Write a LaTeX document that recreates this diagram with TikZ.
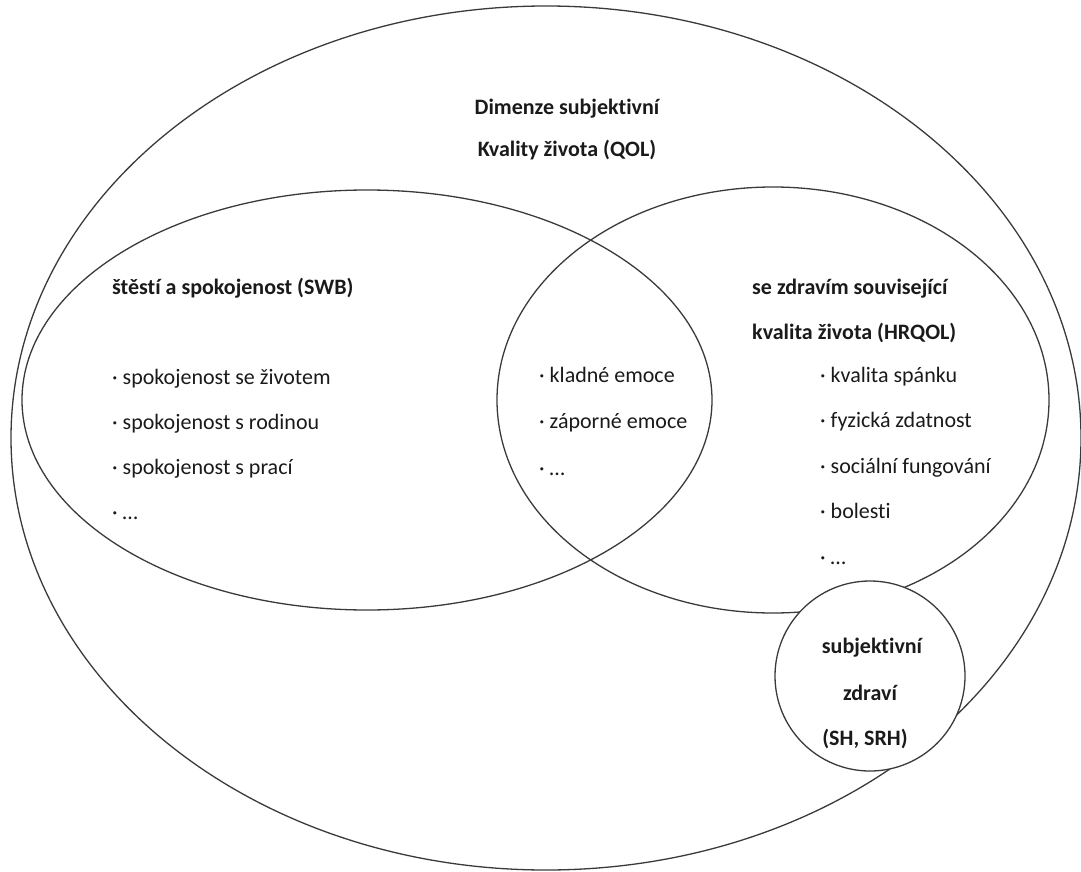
\documentclass[tikz,border=0pt]{standalone}
\usepackage{fontspec}
\setmainfont{Carlito}[Ligatures=NoCommon]
\usetikzlibrary{shapes.geometric, positioning}
\definecolor{darktext}{HTML}{1A1A1A}
\definecolor{edgecolor}{HTML}{3A3A3A}

\begin{document}
\begin{tikzpicture}[
    x=1pt, y=-1pt,
    venn/.style 2 args={ellipse, draw=edgecolor, line width=1.3pt, inner sep=0pt,
                        minimum width=#1, minimum height=#2},
    heading/.style={font=\fontsize{22}{26}\selectfont\bfseries, text=darktext,
                    inner sep=0pt},
    item/.style={font=\fontsize{22}{26}\selectfont, text=darktext,
                 inner sep=0pt, anchor=base west}
]
\useasboundingbox (0,0) rectangle (1081,872);

% Sets
\node[venn={1070pt}{864pt}] (qol) at (546,438) {};
\node[venn={690pt}{420pt}] (swb) at (367,400) {};
\node[venn={552pt}{426pt}] (hrqol) at (773,400) {};
\node[circle, draw=edgecolor, fill=white, line width=1.3pt, inner sep=0pt,
      minimum size=190pt] (sh) at (870,676) {};

% Headings
\node[heading, anchor=base] (qoltitle) at (567,114) {Dimenze subjektivní};
\node[heading, anchor=base] (qolsub) at (567,157) {Kvality života (QOL)};
\node[heading, anchor=base west] (swbtitle) at (112,294) {štěstí a spokojenost (SWB)};
\node[heading, anchor=base west] (hrqoltitle) at (752,294) {se zdravím související};
\node[heading, anchor=base west] (hrqolsub) at (752,339) {kvalita života (HRQOL)};
\node[heading, anchor=base] (shtitle) at (872,653) {subjektivní};
\node[heading, anchor=base] (shsub) at (870,700) {zdraví};
\node[heading, anchor=base] (shabbr) at (865,745) {(SH, SRH)};

% Items
\foreach \txt [count=\i from 0] in {spokojenost se životem, spokojenost s rodinou,
                                    spokojenost s prací, …}
    \node[item] (swbitem\i) at (112,{384+45.3*\i}) {· \txt};

\foreach \txt [count=\i from 0] in {kladné emoce, záporné emoce, …}
    \node[item] (emoitem\i) at (539,{382+46.5*\i}) {· \txt};

\foreach \txt [count=\i from 0] in {kvalita spánku, fyzická zdatnost,
                                    sociální fungování, bolesti, …}
    \node[item] (hritem\i) at (820,{382+45.5*\i}) {· \txt};

\end{tikzpicture}
\end{document}
